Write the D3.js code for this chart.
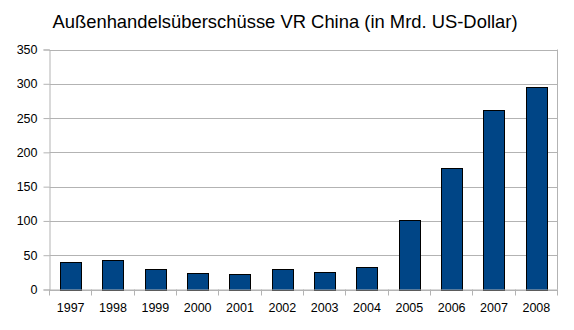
<!DOCTYPE html>
<html>
<head>
<meta charset="utf-8">
<script src="https://cdn.jsdelivr.net/npm/d3@7"></script>
<style>
  html, body { margin: 0; padding: 0; background: #fff; }
  svg { display: block; font-family: "Liberation Sans", Arial, sans-serif; }
</style>
</head>
<body>
<svg id="chart" width="574" height="330"></svg>
<script>
// Trade surplus of the PR China, billions of US dollars
const years = ["1997", "1998", "1999", "2000", "2001", "2002", "2003", "2004", "2005", "2006", "2007", "2008"];
const surplus = [40.4, 43.5, 29.2, 24.1, 22.5, 30.4, 25.5, 32.1, 102.0, 177.5, 262.2, 295.5];
const yTicks = [0, 50, 100, 150, 200, 250, 300, 350];
const title = "Außenhandelsüberschüsse VR China (in Mrd. US-Dollar)";

const svg = d3.select("#chart");
const plotL = 49.5, plotR = 557.5, plotT = 49.5, plotB = 289.5;

const x = d3.scaleBand().domain(years).range([plotL, plotR]).paddingInner(0.5).paddingOuter(0.25);
const y = d3.scaleLinear().domain([0, 350]).range([plotB, plotT]);

// horizontal grid
svg.append("g")
  .selectAll("line")
  .data(yTicks)
  .join("line")
  .attr("x1", plotL).attr("x2", plotR)
  .attr("y1", d => Math.round(y(d)) + 0.5).attr("y2", d => Math.round(y(d)) + 0.5)
  .attr("stroke", "#b3b3b3").attr("stroke-width", 1);

// right border of the plot area
svg.append("line")
  .attr("x1", plotR).attr("x2", plotR).attr("y1", plotT).attr("y2", plotB)
  .attr("stroke", "#b3b3b3");

// bars
svg.append("g")
  .selectAll("rect")
  .data(years.map((yr, i) => ({ yr, v: surplus[i] })))
  .join("rect")
  .attr("x", d => Math.round(x(d.yr)) + 0.5)
  .attr("y", d => Math.round(y(d.v)) + 0.5)
  .attr("width", Math.round(x.bandwidth()))
  .attr("height", d => Math.round(y(0)) - Math.round(y(d.v)))
  .attr("fill", "#004586")
  .attr("stroke", "#000").attr("stroke-width", 1);

// y axis
const yAxis = d3.axisLeft(y).tickValues(yTicks).tickSize(6).tickPadding(6);
const gy = svg.append("g").attr("transform", `translate(${plotL},0)`).call(yAxis);
gy.select(".domain").attr("stroke", "#b3b3b3");
gy.selectAll(".tick line").attr("stroke", "#b3b3b3");
gy.selectAll(".tick text").attr("fill", "#000").style("font-size", "12.5px")
  .style("font-family", "'Liberation Sans', Arial, sans-serif");

// x axis with ticks at category boundaries
const xAxis = d3.axisBottom(x).tickSize(0).tickPadding(14);
const gx = svg.append("g").attr("transform", `translate(0,${plotB})`).call(xAxis);
gx.select(".domain").attr("stroke", "#b3b3b3");
gx.selectAll(".tick text").attr("fill", "#000").style("font-size", "12.5px")
  .style("font-family", "'Liberation Sans', Arial, sans-serif");
const bounds = d3.range(years.length + 1).map(i => plotL + i * (plotR - plotL) / years.length);
gx.append("g").selectAll("line").data(bounds).join("line")
  .attr("x1", d => Math.round(d - 0.5) + 0.5).attr("x2", d => Math.round(d - 0.5) + 0.5)
  .attr("y1", 0).attr("y2", 6)
  .attr("stroke", "#b3b3b3");

// title
svg.append("text")
  .attr("x", 285).attr("y", 28)
  .attr("text-anchor", "middle")
  .style("font-size", "18.4px")
  .attr("fill", "#000")
  .text(title);
</script>
</body>
</html>
